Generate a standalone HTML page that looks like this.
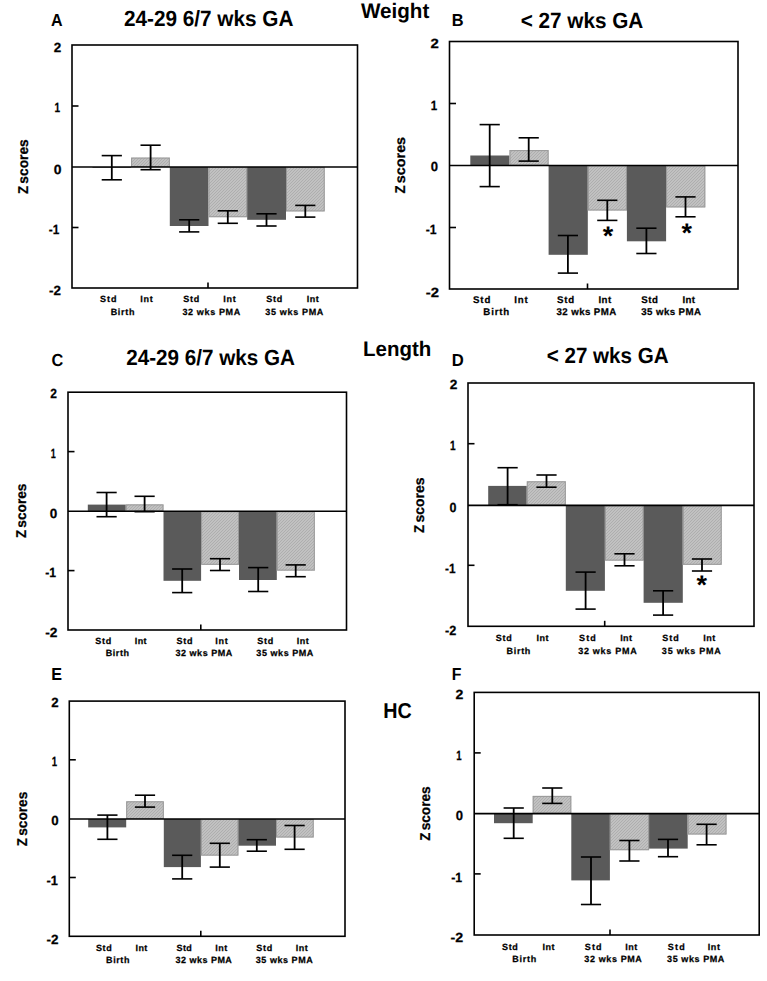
<!DOCTYPE html>
<html><head><meta charset="utf-8"><style>
html,body{margin:0;padding:0;background:#fff;}
svg{display:block;}
text{font-family:"Liberation Sans",sans-serif;font-weight:bold;fill:#000;text-rendering:geometricPrecision;}
.sm{stroke:#000;stroke-width:0.25px;}
</style></head><body>
<svg width="767" height="981" viewBox="0 0 767 981">
<defs>
<pattern id="hatch" patternUnits="userSpaceOnUse" width="3" height="3">
<rect width="3" height="3" fill="#c9c9c9"/>
<path d="M-1,1 L1,-1 M0,3 L3,0 M2,4 L4,2" stroke="#adadad" stroke-width="1.1"/>
</pattern>
</defs>
<rect width="767" height="981" fill="#fff"/>
<rect x="92.50" y="167.00" width="38.60" height="0.80" fill="#5a5a5a"/>
<rect x="131.10" y="157.60" width="38.70" height="9.40" fill="url(#hatch)"/>
<rect x="131.60" y="158.10" width="37.70" height="8.40" fill="none" stroke="#999999" stroke-width="1"/>
<rect x="169.80" y="167.00" width="38.70" height="59.00" fill="#5a5a5a"/>
<rect x="208.50" y="167.00" width="38.70" height="50.20" fill="url(#hatch)"/>
<rect x="209.00" y="167.50" width="37.70" height="49.20" fill="none" stroke="#999999" stroke-width="1"/>
<rect x="247.20" y="167.00" width="38.80" height="52.80" fill="#5a5a5a"/>
<rect x="286.00" y="167.00" width="38.70" height="44.40" fill="url(#hatch)"/>
<rect x="286.50" y="167.50" width="37.70" height="43.40" fill="none" stroke="#999999" stroke-width="1"/>
<line x1="72.00" y1="167.00" x2="357.50" y2="167.00" stroke="#000" stroke-width="1.6"/>
<line x1="111.80" y1="155.60" x2="111.80" y2="179.80" stroke="#000" stroke-width="1.8"/>
<line x1="101.70" y1="155.60" x2="121.90" y2="155.60" stroke="#000" stroke-width="1.6"/>
<line x1="101.70" y1="179.80" x2="121.90" y2="179.80" stroke="#000" stroke-width="1.6"/>
<line x1="150.60" y1="145.20" x2="150.60" y2="169.70" stroke="#000" stroke-width="1.8"/>
<line x1="140.50" y1="145.20" x2="160.70" y2="145.20" stroke="#000" stroke-width="1.6"/>
<line x1="140.50" y1="169.70" x2="160.70" y2="169.70" stroke="#000" stroke-width="1.6"/>
<line x1="189.20" y1="219.80" x2="189.20" y2="231.90" stroke="#000" stroke-width="1.8"/>
<line x1="179.10" y1="219.80" x2="199.30" y2="219.80" stroke="#000" stroke-width="1.6"/>
<line x1="179.10" y1="231.90" x2="199.30" y2="231.90" stroke="#000" stroke-width="1.6"/>
<line x1="227.80" y1="210.80" x2="227.80" y2="223.30" stroke="#000" stroke-width="1.8"/>
<line x1="217.70" y1="210.80" x2="237.90" y2="210.80" stroke="#000" stroke-width="1.6"/>
<line x1="217.70" y1="223.30" x2="237.90" y2="223.30" stroke="#000" stroke-width="1.6"/>
<line x1="266.50" y1="213.80" x2="266.50" y2="226.00" stroke="#000" stroke-width="1.8"/>
<line x1="256.40" y1="213.80" x2="276.60" y2="213.80" stroke="#000" stroke-width="1.6"/>
<line x1="256.40" y1="226.00" x2="276.60" y2="226.00" stroke="#000" stroke-width="1.6"/>
<line x1="305.30" y1="205.40" x2="305.30" y2="217.10" stroke="#000" stroke-width="1.8"/>
<line x1="295.20" y1="205.40" x2="315.40" y2="205.40" stroke="#000" stroke-width="1.6"/>
<line x1="295.20" y1="217.10" x2="315.40" y2="217.10" stroke="#000" stroke-width="1.6"/>
<rect x="72" y="45" width="285.50" height="243.00" fill="none" stroke="#000" stroke-width="1.6"/>
<line x1="72.00" y1="106.00" x2="78.50" y2="106.00" stroke="#000" stroke-width="1.6"/>
<line x1="72.00" y1="227.50" x2="78.50" y2="227.50" stroke="#000" stroke-width="1.6"/>
<line x1="208.00" y1="288.00" x2="208.00" y2="282.50" stroke="#000" stroke-width="1.6"/>
<text transform="translate(51.08,26.00) scale(0.9231,1)" font-size="17.4">A</text>
<text transform="translate(123.90,25.50) scale(0.9434,1)" font-size="22">24-29 6/7 wks GA</text>
<text class="sm" transform="translate(27.95,194.12) rotate(-90) scale(0.9367,1)" font-size="14.2">Z</text>
<text class="sm" transform="translate(27.95,183.63) rotate(-90) scale(0.9687,1)" font-size="14.2">scores</text>
<text transform="translate(53.84,52.00) scale(1.0156,1)" font-size="13.3" class="sm">2</text>
<text transform="translate(54.44,112.00) scale(0.7581,1)" font-size="13.3" class="sm">1</text>
<text transform="translate(53.73,174.00) scale(1.0469,1)" font-size="13.3" class="sm">0</text>
<text transform="translate(48.71,234.00) scale(0.8899,1)" font-size="13.3" class="sm">-1</text>
<text transform="translate(48.95,295.00) scale(1.0093,1)" font-size="13.3" class="sm">-2</text>
<text class="sm" x="100.05" y="302.00" font-size="9.0" textLength="16.40" lengthAdjust="spacing">Std</text>
<text class="sm" x="140.15" y="302.00" font-size="9.0" textLength="12.59" lengthAdjust="spacing">Int</text>
<text class="sm" x="183.15" y="302.00" font-size="9.0" textLength="16.20" lengthAdjust="spacing">Std</text>
<text class="sm" x="223.35" y="302.00" font-size="9.0" textLength="12.29" lengthAdjust="spacing">Int</text>
<text class="sm" x="266.25" y="302.00" font-size="9.0" textLength="16.10" lengthAdjust="spacing">Std</text>
<text class="sm" x="306.65" y="302.00" font-size="9.0" textLength="12.09" lengthAdjust="spacing">Int</text>
<text class="sm" x="110.65" y="315.00" font-size="9.0" textLength="23.80" lengthAdjust="spacing">Birth</text>
<text class="sm" x="182.45" y="315.00" font-size="9.0" textLength="57.72" lengthAdjust="spacing">32 wks PMA</text>
<text class="sm" x="265.35" y="315.00" font-size="9.0" textLength="58.02" lengthAdjust="spacing">35 wks PMA</text>
<rect x="470.30" y="155.50" width="39.20" height="10.00" fill="#5a5a5a"/>
<rect x="509.50" y="150.10" width="39.10" height="15.40" fill="url(#hatch)"/>
<rect x="510.00" y="150.60" width="38.10" height="14.40" fill="none" stroke="#999999" stroke-width="1"/>
<rect x="548.60" y="165.50" width="39.20" height="89.30" fill="#5a5a5a"/>
<rect x="587.80" y="165.50" width="39.10" height="45.00" fill="url(#hatch)"/>
<rect x="588.30" y="166.00" width="38.10" height="44.00" fill="none" stroke="#999999" stroke-width="1"/>
<rect x="626.90" y="165.50" width="39.20" height="75.80" fill="#5a5a5a"/>
<rect x="666.10" y="165.50" width="39.20" height="41.90" fill="url(#hatch)"/>
<rect x="666.60" y="166.00" width="38.20" height="40.90" fill="none" stroke="#999999" stroke-width="1"/>
<line x1="449.50" y1="165.50" x2="738.00" y2="165.50" stroke="#000" stroke-width="1.6"/>
<line x1="489.70" y1="124.60" x2="489.70" y2="186.60" stroke="#000" stroke-width="1.8"/>
<line x1="479.60" y1="124.60" x2="499.80" y2="124.60" stroke="#000" stroke-width="1.6"/>
<line x1="479.60" y1="186.60" x2="499.80" y2="186.60" stroke="#000" stroke-width="1.6"/>
<line x1="528.70" y1="137.80" x2="528.70" y2="161.10" stroke="#000" stroke-width="1.8"/>
<line x1="518.60" y1="137.80" x2="538.80" y2="137.80" stroke="#000" stroke-width="1.6"/>
<line x1="518.60" y1="161.10" x2="538.80" y2="161.10" stroke="#000" stroke-width="1.6"/>
<line x1="567.90" y1="235.50" x2="567.90" y2="273.10" stroke="#000" stroke-width="1.8"/>
<line x1="557.80" y1="235.50" x2="578.00" y2="235.50" stroke="#000" stroke-width="1.6"/>
<line x1="557.80" y1="273.10" x2="578.00" y2="273.10" stroke="#000" stroke-width="1.6"/>
<line x1="607.30" y1="200.30" x2="607.30" y2="220.40" stroke="#000" stroke-width="1.8"/>
<line x1="597.20" y1="200.30" x2="617.40" y2="200.30" stroke="#000" stroke-width="1.6"/>
<line x1="597.20" y1="220.40" x2="617.40" y2="220.40" stroke="#000" stroke-width="1.6"/>
<line x1="646.40" y1="228.20" x2="646.40" y2="253.50" stroke="#000" stroke-width="1.8"/>
<line x1="636.30" y1="228.20" x2="656.50" y2="228.20" stroke="#000" stroke-width="1.6"/>
<line x1="636.30" y1="253.50" x2="656.50" y2="253.50" stroke="#000" stroke-width="1.6"/>
<line x1="685.50" y1="196.90" x2="685.50" y2="216.80" stroke="#000" stroke-width="1.8"/>
<line x1="675.40" y1="196.90" x2="695.60" y2="196.90" stroke="#000" stroke-width="1.6"/>
<line x1="675.40" y1="216.80" x2="695.60" y2="216.80" stroke="#000" stroke-width="1.6"/>
<rect x="449.5" y="41.5" width="288.50" height="247.50" fill="none" stroke="#000" stroke-width="1.6"/>
<line x1="449.50" y1="103.50" x2="456.00" y2="103.50" stroke="#000" stroke-width="1.6"/>
<line x1="449.50" y1="227.50" x2="456.00" y2="227.50" stroke="#000" stroke-width="1.6"/>
<line x1="587.50" y1="289.00" x2="587.50" y2="283.50" stroke="#000" stroke-width="1.6"/>
<text x="602.80" y="244.50" font-size="27">*</text>
<text x="681.60" y="242.00" font-size="27">*</text>
<text transform="translate(451.72,26.00) scale(0.9434,1)" font-size="17.4">B</text>
<text transform="translate(520.70,28.00) scale(0.9410,1)" font-size="22">&lt; 27 wks GA</text>
<text class="sm" transform="translate(404.65,193.62) rotate(-90) scale(0.9367,1)" font-size="14.2">Z</text>
<text class="sm" transform="translate(404.65,183.16) rotate(-90) scale(1.0112,1)" font-size="14.2">scores</text>
<text transform="translate(430.59,48.00) scale(1.1250,1)" font-size="13.3" class="sm">2</text>
<text transform="translate(430.85,110.00) scale(0.8710,1)" font-size="13.3" class="sm">1</text>
<text transform="translate(430.86,171.00) scale(0.9844,1)" font-size="13.3" class="sm">0</text>
<text transform="translate(425.69,234.00) scale(0.9174,1)" font-size="13.3" class="sm">-1</text>
<text transform="translate(425.69,297.00) scale(1.1204,1)" font-size="13.3" class="sm">-2</text>
<text class="sm" x="473.05" y="303.00" font-size="9.7" textLength="17.32" lengthAdjust="spacing">Std</text>
<text class="sm" x="514.25" y="303.00" font-size="9.7" textLength="13.55" lengthAdjust="spacing">Int</text>
<text class="sm" x="557.05" y="303.00" font-size="9.7" textLength="17.03" lengthAdjust="spacing">Std</text>
<text class="sm" x="598.45" y="303.00" font-size="9.7" textLength="12.75" lengthAdjust="spacing">Int</text>
<text class="sm" x="641.15" y="303.00" font-size="9.7" textLength="16.72" lengthAdjust="spacing">Std</text>
<text class="sm" x="682.55" y="303.00" font-size="9.7" textLength="12.35" lengthAdjust="spacing">Int</text>
<text class="sm" x="483.35" y="315.00" font-size="9.7" textLength="25.93" lengthAdjust="spacing">Birth</text>
<text class="sm" x="556.55" y="315.00" font-size="9.7" textLength="59.67" lengthAdjust="spacing">32 wks PMA</text>
<text class="sm" x="641.25" y="315.00" font-size="9.7" textLength="59.67" lengthAdjust="spacing">35 wks PMA</text>
<rect x="87.80" y="504.60" width="38.00" height="6.70" fill="#5a5a5a"/>
<rect x="125.80" y="504.40" width="37.70" height="6.90" fill="url(#hatch)"/>
<rect x="126.30" y="504.90" width="36.70" height="5.90" fill="none" stroke="#999999" stroke-width="1"/>
<rect x="163.50" y="511.30" width="37.60" height="69.50" fill="#5a5a5a"/>
<rect x="201.10" y="511.30" width="37.90" height="53.50" fill="url(#hatch)"/>
<rect x="201.60" y="511.80" width="36.90" height="52.50" fill="none" stroke="#999999" stroke-width="1"/>
<rect x="239.00" y="511.30" width="37.80" height="68.70" fill="#5a5a5a"/>
<rect x="276.80" y="511.30" width="38.00" height="59.30" fill="url(#hatch)"/>
<rect x="277.30" y="511.80" width="37.00" height="58.30" fill="none" stroke="#999999" stroke-width="1"/>
<line x1="68.00" y1="511.30" x2="346.50" y2="511.30" stroke="#000" stroke-width="1.6"/>
<line x1="106.60" y1="492.50" x2="106.60" y2="516.70" stroke="#000" stroke-width="1.8"/>
<line x1="96.50" y1="492.50" x2="116.70" y2="492.50" stroke="#000" stroke-width="1.6"/>
<line x1="96.50" y1="516.70" x2="116.70" y2="516.70" stroke="#000" stroke-width="1.6"/>
<line x1="144.60" y1="496.30" x2="144.60" y2="511.70" stroke="#000" stroke-width="1.8"/>
<line x1="134.50" y1="496.30" x2="154.70" y2="496.30" stroke="#000" stroke-width="1.6"/>
<line x1="134.50" y1="511.70" x2="154.70" y2="511.70" stroke="#000" stroke-width="1.6"/>
<line x1="182.20" y1="569.00" x2="182.20" y2="592.60" stroke="#000" stroke-width="1.8"/>
<line x1="172.10" y1="569.00" x2="192.30" y2="569.00" stroke="#000" stroke-width="1.6"/>
<line x1="172.10" y1="592.60" x2="192.30" y2="592.60" stroke="#000" stroke-width="1.6"/>
<line x1="220.00" y1="558.70" x2="220.00" y2="570.50" stroke="#000" stroke-width="1.8"/>
<line x1="209.90" y1="558.70" x2="230.10" y2="558.70" stroke="#000" stroke-width="1.6"/>
<line x1="209.90" y1="570.50" x2="230.10" y2="570.50" stroke="#000" stroke-width="1.6"/>
<line x1="258.20" y1="567.60" x2="258.20" y2="591.50" stroke="#000" stroke-width="1.8"/>
<line x1="248.10" y1="567.60" x2="268.30" y2="567.60" stroke="#000" stroke-width="1.6"/>
<line x1="248.10" y1="591.50" x2="268.30" y2="591.50" stroke="#000" stroke-width="1.6"/>
<line x1="295.70" y1="564.90" x2="295.70" y2="576.70" stroke="#000" stroke-width="1.8"/>
<line x1="285.60" y1="564.90" x2="305.80" y2="564.90" stroke="#000" stroke-width="1.6"/>
<line x1="285.60" y1="576.70" x2="305.80" y2="576.70" stroke="#000" stroke-width="1.6"/>
<rect x="68" y="392.2" width="278.50" height="237.80" fill="none" stroke="#000" stroke-width="1.6"/>
<line x1="68.00" y1="451.60" x2="74.50" y2="451.60" stroke="#000" stroke-width="1.6"/>
<line x1="68.00" y1="570.60" x2="74.50" y2="570.60" stroke="#000" stroke-width="1.6"/>
<line x1="200.80" y1="630.00" x2="200.80" y2="624.50" stroke="#000" stroke-width="1.6"/>
<text transform="translate(51.49,366.00) scale(0.9386,1)" font-size="17.4">C</text>
<text transform="translate(126.20,365.00) scale(0.9383,1)" font-size="22">24-29 6/7 wks GA</text>
<text class="sm" transform="translate(25.65,538.12) rotate(-90) scale(0.9367,1)" font-size="14.2">Z</text>
<text class="sm" transform="translate(25.65,527.63) rotate(-90) scale(0.9620,1)" font-size="14.2">scores</text>
<text transform="translate(50.20,398.00) scale(0.9063,1)" font-size="13.3" class="sm">2</text>
<text transform="translate(50.71,458.00) scale(0.6774,1)" font-size="13.3" class="sm">1</text>
<text transform="translate(49.64,518.00) scale(1.0156,1)" font-size="13.3" class="sm">0</text>
<text transform="translate(45.29,577.00) scale(0.9174,1)" font-size="13.3" class="sm">-1</text>
<text transform="translate(45.23,637.00) scale(1.0370,1)" font-size="13.3" class="sm">-2</text>
<text class="sm" x="95.25" y="644.00" font-size="9.0" textLength="16.10" lengthAdjust="spacing">Std</text>
<text class="sm" x="134.85" y="644.00" font-size="9.0" textLength="11.69" lengthAdjust="spacing">Int</text>
<text class="sm" x="176.45" y="644.00" font-size="9.0" textLength="16.10" lengthAdjust="spacing">Std</text>
<text class="sm" x="215.25" y="644.00" font-size="9.0" textLength="12.59" lengthAdjust="spacing">Int</text>
<text class="sm" x="257.25" y="644.00" font-size="9.0" textLength="16.10" lengthAdjust="spacing">Std</text>
<text class="sm" x="296.75" y="644.00" font-size="9.0" textLength="11.89" lengthAdjust="spacing">Int</text>
<text class="sm" x="105.65" y="656.00" font-size="9.0" textLength="23.40" lengthAdjust="spacing">Birth</text>
<text class="sm" x="175.55" y="656.00" font-size="9.0" textLength="56.62" lengthAdjust="spacing">32 wks PMA</text>
<text class="sm" x="256.35" y="656.00" font-size="9.0" textLength="57.02" lengthAdjust="spacing">35 wks PMA</text>
<rect x="488.20" y="485.90" width="38.60" height="19.50" fill="#5a5a5a"/>
<rect x="526.80" y="481.30" width="39.00" height="24.10" fill="url(#hatch)"/>
<rect x="527.30" y="481.80" width="38.00" height="23.10" fill="none" stroke="#999999" stroke-width="1"/>
<rect x="565.80" y="505.40" width="39.10" height="85.40" fill="#5a5a5a"/>
<rect x="604.90" y="505.40" width="38.70" height="55.20" fill="url(#hatch)"/>
<rect x="605.40" y="505.90" width="37.70" height="54.20" fill="none" stroke="#999999" stroke-width="1"/>
<rect x="643.60" y="505.40" width="39.20" height="97.40" fill="#5a5a5a"/>
<rect x="682.80" y="505.40" width="38.90" height="59.40" fill="url(#hatch)"/>
<rect x="683.30" y="505.90" width="37.90" height="58.40" fill="none" stroke="#999999" stroke-width="1"/>
<line x1="468.00" y1="505.40" x2="754.00" y2="505.40" stroke="#000" stroke-width="1.6"/>
<line x1="507.60" y1="467.70" x2="507.60" y2="504.70" stroke="#000" stroke-width="1.8"/>
<line x1="497.50" y1="467.70" x2="517.70" y2="467.70" stroke="#000" stroke-width="1.6"/>
<line x1="497.50" y1="504.70" x2="517.70" y2="504.70" stroke="#000" stroke-width="1.6"/>
<line x1="546.50" y1="475.00" x2="546.50" y2="487.20" stroke="#000" stroke-width="1.8"/>
<line x1="536.40" y1="475.00" x2="556.60" y2="475.00" stroke="#000" stroke-width="1.6"/>
<line x1="536.40" y1="487.20" x2="556.60" y2="487.20" stroke="#000" stroke-width="1.6"/>
<line x1="585.60" y1="572.10" x2="585.60" y2="609.10" stroke="#000" stroke-width="1.8"/>
<line x1="575.50" y1="572.10" x2="595.70" y2="572.10" stroke="#000" stroke-width="1.6"/>
<line x1="575.50" y1="609.10" x2="595.70" y2="609.10" stroke="#000" stroke-width="1.6"/>
<line x1="624.50" y1="553.80" x2="624.50" y2="565.80" stroke="#000" stroke-width="1.8"/>
<line x1="614.40" y1="553.80" x2="634.60" y2="553.80" stroke="#000" stroke-width="1.6"/>
<line x1="614.40" y1="565.80" x2="634.60" y2="565.80" stroke="#000" stroke-width="1.6"/>
<line x1="663.10" y1="590.80" x2="663.10" y2="615.10" stroke="#000" stroke-width="1.8"/>
<line x1="653.00" y1="590.80" x2="673.20" y2="590.80" stroke="#000" stroke-width="1.6"/>
<line x1="653.00" y1="615.10" x2="673.20" y2="615.10" stroke="#000" stroke-width="1.6"/>
<line x1="702.00" y1="559.00" x2="702.00" y2="571.00" stroke="#000" stroke-width="1.8"/>
<line x1="691.90" y1="559.00" x2="712.10" y2="559.00" stroke="#000" stroke-width="1.6"/>
<line x1="691.90" y1="571.00" x2="712.10" y2="571.00" stroke="#000" stroke-width="1.6"/>
<rect x="468" y="383" width="286.00" height="243.30" fill="none" stroke="#000" stroke-width="1.6"/>
<line x1="468.00" y1="443.70" x2="474.50" y2="443.70" stroke="#000" stroke-width="1.6"/>
<line x1="468.00" y1="565.30" x2="474.50" y2="565.30" stroke="#000" stroke-width="1.6"/>
<line x1="604.70" y1="626.30" x2="604.70" y2="620.80" stroke="#000" stroke-width="1.6"/>
<text x="696.50" y="594.20" font-size="27">*</text>
<text transform="translate(451.70,366.00) scale(0.9575,1)" font-size="17.4">D</text>
<text transform="translate(546.71,363.20) scale(0.9363,1)" font-size="22">&lt; 27 wks GA</text>
<text class="sm" transform="translate(423.95,533.02) rotate(-90) scale(0.9367,1)" font-size="14.2">Z</text>
<text class="sm" transform="translate(423.95,522.54) rotate(-90) scale(0.9843,1)" font-size="14.2">scores</text>
<text transform="translate(449.63,389.00) scale(1.0313,1)" font-size="13.3" class="sm">2</text>
<text transform="translate(449.94,450.00) scale(0.7581,1)" font-size="13.3" class="sm">1</text>
<text transform="translate(449.38,512.00) scale(0.9375,1)" font-size="13.3" class="sm">0</text>
<text transform="translate(445.11,573.00) scale(0.8899,1)" font-size="13.3" class="sm">-1</text>
<text transform="translate(445.07,635.00) scale(0.9537,1)" font-size="13.3" class="sm">-2</text>
<text class="sm" x="495.85" y="641.00" font-size="9.0" textLength="16.00" lengthAdjust="spacing">Std</text>
<text class="sm" x="536.55" y="641.00" font-size="9.0" textLength="11.99" lengthAdjust="spacing">Int</text>
<text class="sm" x="579.05" y="641.00" font-size="9.0" textLength="16.70" lengthAdjust="spacing">Std</text>
<text class="sm" x="620.15" y="641.00" font-size="9.0" textLength="11.89" lengthAdjust="spacing">Int</text>
<text class="sm" x="662.15" y="641.00" font-size="9.0" textLength="16.70" lengthAdjust="spacing">Std</text>
<text class="sm" x="703.25" y="641.00" font-size="9.0" textLength="11.99" lengthAdjust="spacing">Int</text>
<text class="sm" x="506.45" y="654.00" font-size="9.0" textLength="23.90" lengthAdjust="spacing">Birth</text>
<text class="sm" x="578.15" y="654.00" font-size="9.0" textLength="58.62" lengthAdjust="spacing">32 wks PMA</text>
<text class="sm" x="661.85" y="654.00" font-size="9.0" textLength="59.02" lengthAdjust="spacing">35 wks PMA</text>
<rect x="88.20" y="819.00" width="38.00" height="8.40" fill="#5a5a5a"/>
<rect x="126.20" y="801.30" width="37.60" height="17.70" fill="url(#hatch)"/>
<rect x="126.70" y="801.80" width="36.60" height="16.70" fill="none" stroke="#999999" stroke-width="1"/>
<rect x="163.80" y="819.00" width="37.10" height="48.10" fill="#5a5a5a"/>
<rect x="200.90" y="819.00" width="37.50" height="36.60" fill="url(#hatch)"/>
<rect x="201.40" y="819.50" width="36.50" height="35.60" fill="none" stroke="#999999" stroke-width="1"/>
<rect x="238.40" y="819.00" width="37.60" height="26.70" fill="#5a5a5a"/>
<rect x="276.00" y="819.00" width="37.70" height="18.50" fill="url(#hatch)"/>
<rect x="276.50" y="819.50" width="36.70" height="17.50" fill="none" stroke="#999999" stroke-width="1"/>
<line x1="69.30" y1="819.00" x2="345.00" y2="819.00" stroke="#000" stroke-width="1.6"/>
<line x1="107.40" y1="815.10" x2="107.40" y2="839.30" stroke="#000" stroke-width="1.8"/>
<line x1="97.30" y1="815.10" x2="117.50" y2="815.10" stroke="#000" stroke-width="1.6"/>
<line x1="97.30" y1="839.30" x2="117.50" y2="839.30" stroke="#000" stroke-width="1.6"/>
<line x1="145.00" y1="795.20" x2="145.00" y2="807.10" stroke="#000" stroke-width="1.8"/>
<line x1="134.90" y1="795.20" x2="155.10" y2="795.20" stroke="#000" stroke-width="1.6"/>
<line x1="134.90" y1="807.10" x2="155.10" y2="807.10" stroke="#000" stroke-width="1.6"/>
<line x1="182.20" y1="855.30" x2="182.20" y2="878.90" stroke="#000" stroke-width="1.8"/>
<line x1="172.10" y1="855.30" x2="192.30" y2="855.30" stroke="#000" stroke-width="1.6"/>
<line x1="172.10" y1="878.90" x2="192.30" y2="878.90" stroke="#000" stroke-width="1.6"/>
<line x1="219.80" y1="843.30" x2="219.80" y2="867.10" stroke="#000" stroke-width="1.8"/>
<line x1="209.70" y1="843.30" x2="229.90" y2="843.30" stroke="#000" stroke-width="1.6"/>
<line x1="209.70" y1="867.10" x2="229.90" y2="867.10" stroke="#000" stroke-width="1.6"/>
<line x1="256.80" y1="839.70" x2="256.80" y2="851.20" stroke="#000" stroke-width="1.8"/>
<line x1="246.70" y1="839.70" x2="266.90" y2="839.70" stroke="#000" stroke-width="1.6"/>
<line x1="246.70" y1="851.20" x2="266.90" y2="851.20" stroke="#000" stroke-width="1.6"/>
<line x1="294.60" y1="825.50" x2="294.60" y2="849.30" stroke="#000" stroke-width="1.8"/>
<line x1="284.50" y1="825.50" x2="304.70" y2="825.50" stroke="#000" stroke-width="1.6"/>
<line x1="284.50" y1="849.30" x2="304.70" y2="849.30" stroke="#000" stroke-width="1.6"/>
<rect x="69.3" y="701.1" width="275.70" height="235.20" fill="none" stroke="#000" stroke-width="1.6"/>
<line x1="69.30" y1="759.80" x2="75.80" y2="759.80" stroke="#000" stroke-width="1.6"/>
<line x1="69.30" y1="877.50" x2="75.80" y2="877.50" stroke="#000" stroke-width="1.6"/>
<line x1="200.80" y1="936.30" x2="200.80" y2="930.80" stroke="#000" stroke-width="1.6"/>
<text transform="translate(51.24,680.00) scale(0.9278,1)" font-size="17.4">E</text>
<text class="sm" transform="translate(26.95,846.22) rotate(-90) scale(0.9367,1)" font-size="14.2">Z</text>
<text class="sm" transform="translate(26.95,835.73) rotate(-90) scale(0.9620,1)" font-size="14.2">scores</text>
<text transform="translate(51.25,707.00) scale(1.0000,1)" font-size="13.3" class="sm">2</text>
<text transform="translate(51.77,766.00) scale(0.7258,1)" font-size="13.3" class="sm">1</text>
<text transform="translate(51.15,825.00) scale(1.0000,1)" font-size="13.3" class="sm">0</text>
<text transform="translate(46.57,885.00) scale(0.9633,1)" font-size="13.3" class="sm">-1</text>
<text transform="translate(46.54,944.00) scale(1.0185,1)" font-size="13.3" class="sm">-2</text>
<text class="sm" x="96.05" y="951.00" font-size="9.0" textLength="15.60" lengthAdjust="spacing">Std</text>
<text class="sm" x="135.45" y="951.00" font-size="9.0" textLength="11.89" lengthAdjust="spacing">Int</text>
<text class="sm" x="176.45" y="951.00" font-size="9.0" textLength="15.40" lengthAdjust="spacing">Std</text>
<text class="sm" x="215.25" y="951.00" font-size="9.0" textLength="11.99" lengthAdjust="spacing">Int</text>
<text class="sm" x="256.25" y="951.00" font-size="9.0" textLength="16.10" lengthAdjust="spacing">Std</text>
<text class="sm" x="295.75" y="951.00" font-size="9.0" textLength="11.99" lengthAdjust="spacing">Int</text>
<text class="sm" x="106.05" y="963.00" font-size="9.0" textLength="23.40" lengthAdjust="spacing">Birth</text>
<text class="sm" x="175.55" y="963.00" font-size="9.0" textLength="56.32" lengthAdjust="spacing">32 wks PMA</text>
<text class="sm" x="255.75" y="963.00" font-size="9.0" textLength="56.92" lengthAdjust="spacing">35 wks PMA</text>
<rect x="494.00" y="813.60" width="38.70" height="9.60" fill="#5a5a5a"/>
<rect x="532.70" y="795.90" width="38.60" height="17.70" fill="url(#hatch)"/>
<rect x="533.20" y="796.40" width="37.60" height="16.70" fill="none" stroke="#999999" stroke-width="1"/>
<rect x="571.30" y="813.60" width="38.60" height="66.80" fill="#5a5a5a"/>
<rect x="609.90" y="813.60" width="39.20" height="36.60" fill="url(#hatch)"/>
<rect x="610.40" y="814.10" width="38.20" height="35.60" fill="none" stroke="#999999" stroke-width="1"/>
<rect x="649.10" y="813.60" width="38.60" height="35.00" fill="#5a5a5a"/>
<rect x="687.70" y="813.60" width="38.80" height="20.90" fill="url(#hatch)"/>
<rect x="688.20" y="814.10" width="37.80" height="19.90" fill="none" stroke="#999999" stroke-width="1"/>
<line x1="474.20" y1="813.60" x2="759.20" y2="813.60" stroke="#000" stroke-width="1.6"/>
<line x1="513.70" y1="808.00" x2="513.70" y2="838.30" stroke="#000" stroke-width="1.8"/>
<line x1="503.60" y1="808.00" x2="523.80" y2="808.00" stroke="#000" stroke-width="1.6"/>
<line x1="503.60" y1="838.30" x2="523.80" y2="838.30" stroke="#000" stroke-width="1.6"/>
<line x1="552.30" y1="788.00" x2="552.30" y2="803.40" stroke="#000" stroke-width="1.8"/>
<line x1="542.20" y1="788.00" x2="562.40" y2="788.00" stroke="#000" stroke-width="1.6"/>
<line x1="542.20" y1="803.40" x2="562.40" y2="803.40" stroke="#000" stroke-width="1.6"/>
<line x1="591.00" y1="857.00" x2="591.00" y2="904.50" stroke="#000" stroke-width="1.8"/>
<line x1="580.90" y1="857.00" x2="601.10" y2="857.00" stroke="#000" stroke-width="1.6"/>
<line x1="580.90" y1="904.50" x2="601.10" y2="904.50" stroke="#000" stroke-width="1.6"/>
<line x1="629.40" y1="840.50" x2="629.40" y2="861.00" stroke="#000" stroke-width="1.8"/>
<line x1="619.30" y1="840.50" x2="639.50" y2="840.50" stroke="#000" stroke-width="1.6"/>
<line x1="619.30" y1="861.00" x2="639.50" y2="861.00" stroke="#000" stroke-width="1.6"/>
<line x1="668.00" y1="839.40" x2="668.00" y2="856.70" stroke="#000" stroke-width="1.8"/>
<line x1="657.90" y1="839.40" x2="678.10" y2="839.40" stroke="#000" stroke-width="1.6"/>
<line x1="657.90" y1="856.70" x2="678.10" y2="856.70" stroke="#000" stroke-width="1.6"/>
<line x1="706.60" y1="824.30" x2="706.60" y2="844.80" stroke="#000" stroke-width="1.8"/>
<line x1="696.50" y1="824.30" x2="716.70" y2="824.30" stroke="#000" stroke-width="1.6"/>
<line x1="696.50" y1="844.80" x2="716.70" y2="844.80" stroke="#000" stroke-width="1.6"/>
<rect x="474.2" y="692.4" width="285.00" height="242.60" fill="none" stroke="#000" stroke-width="1.6"/>
<line x1="474.20" y1="752.90" x2="480.70" y2="752.90" stroke="#000" stroke-width="1.6"/>
<line x1="474.20" y1="873.90" x2="480.70" y2="873.90" stroke="#000" stroke-width="1.6"/>
<line x1="610.00" y1="935.00" x2="610.00" y2="929.50" stroke="#000" stroke-width="1.6"/>
<text transform="translate(451.76,680.00) scale(0.9091,1)" font-size="17.4">F</text>
<text class="sm" transform="translate(430.25,840.82) rotate(-90) scale(0.9367,1)" font-size="14.2">Z</text>
<text class="sm" transform="translate(430.25,830.33) rotate(-90) scale(0.9620,1)" font-size="14.2">scores</text>
<text transform="translate(455.62,699.00) scale(1.0625,1)" font-size="13.3" class="sm">2</text>
<text transform="translate(456.17,760.00) scale(0.7258,1)" font-size="13.3" class="sm">1</text>
<text transform="translate(455.76,820.00) scale(0.9844,1)" font-size="13.3" class="sm">0</text>
<text transform="translate(451.19,882.00) scale(0.9266,1)" font-size="13.3" class="sm">-1</text>
<text transform="translate(450.61,942.00) scale(1.0741,1)" font-size="13.3" class="sm">-2</text>
<text class="sm" x="502.05" y="950.00" font-size="9.0" textLength="15.80" lengthAdjust="spacing">Std</text>
<text class="sm" x="542.45" y="950.00" font-size="9.0" textLength="12.09" lengthAdjust="spacing">Int</text>
<text class="sm" x="584.75" y="950.00" font-size="9.0" textLength="16.80" lengthAdjust="spacing">Std</text>
<text class="sm" x="625.25" y="950.00" font-size="9.0" textLength="11.99" lengthAdjust="spacing">Int</text>
<text class="sm" x="667.85" y="950.00" font-size="9.0" textLength="16.80" lengthAdjust="spacing">Std</text>
<text class="sm" x="707.65" y="950.00" font-size="9.0" textLength="12.29" lengthAdjust="spacing">Int</text>
<text class="sm" x="512.25" y="962.00" font-size="9.0" textLength="24.10" lengthAdjust="spacing">Birth</text>
<text class="sm" x="584.25" y="962.00" font-size="9.0" textLength="57.62" lengthAdjust="spacing">32 wks PMA</text>
<text class="sm" x="667.05" y="962.00" font-size="9.0" textLength="57.32" lengthAdjust="spacing">35 wks PMA</text>
<text transform="translate(360.95,18.00) scale(0.9827,1)" font-size="21.0">Weight</text>
<text transform="translate(362.99,356.40) scale(0.9747,1)" font-size="21.0">Length</text>
<text transform="translate(383.17,718.00) scale(0.9144,1)" font-size="21.6">HC</text>
</svg>
</body></html>
